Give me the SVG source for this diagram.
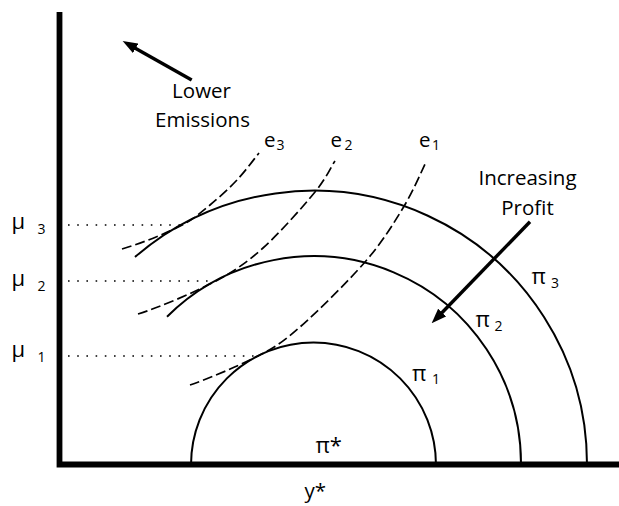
<svg xmlns="http://www.w3.org/2000/svg" width="619" height="506" viewBox="0 0 619 506">
<style>
.t{font-family:"Open Sans","Liberation Sans",sans-serif;font-size:20.5px;fill:#000}
.g{font-size:22px}
.s{font-size:14px}
.arc{fill:none;stroke:#000;stroke-width:2}
.dash{fill:none;stroke:#000;stroke-width:1.7;stroke-dasharray:10 4}
.dot{fill:none;stroke:#000;stroke-width:1.6;stroke-dasharray:1.6 7.6}
.arr{fill:none;stroke:#000;stroke-width:3.4;marker-end:url(#ah)}
</style>
<defs>
<marker id="ah" viewBox="0 0 15 11" markerWidth="15" markerHeight="11" refX="3" refY="5.5" orient="auto" markerUnits="userSpaceOnUse">
<path d="M0,0 L15,5.5 L0,11 z" fill="#000"/>
</marker>
</defs>
<g id="axes">
<path d="M59.5,12 V464.5 H619" fill="none" stroke="#000" stroke-width="5.8" stroke-linejoin="miter"/>
</g>
<g id="profit-curves">
<path class="arc" d="M191,465 A122.5,122.5 0 0 1 436,465"/>
<path class="arc" d="M167,316.8 A207.5,207.5 0 0 1 521,465"/>
<path class="arc" d="M135,257 A273.5,273.5 0 0 1 587,465"/>
</g>
<g id="connectors">
<path class="dash" d="M122,249 C142,243 165,234.1 185,223.5 C193,219.2 201.3,212.3 210,205 C218.7,197.8 228.8,188.7 237,180 C245.2,171.3 255.3,157.5 259,153"/>
<path class="dash" d="M138,314 C158,308 196,291.6 216,281 C232,272.5 246.5,262.8 263,248 C279.5,233.2 303,206.7 315,192 C327,177.3 331.7,165.3 335,161"/>
<path class="dash" d="M190,385 C210,378 236,367 258,356 C272,349 282.2,342.7 300,327 C317.8,311.3 347.8,281.8 365,262 C382.2,242.2 392.8,224.7 403,208 C413.2,191.3 422.2,169.7 426,162"/>
<path class="dot" d="M68,225 H186"/>
<path class="dot" d="M68,281 H214"/>
<path class="dot" d="M68,356 H254"/>
<path class="arr" d="M191.7,80 L133.1,46.9"/>
<path class="arr" d="M530,221.7 L440,314.7"/>
</g>
<g id="lower-emissions">
<text class="t" x="201.5" y="97.5" text-anchor="middle">Lower</text>
<text class="t" x="202.5" y="127" text-anchor="middle">Emissions</text>
</g>
<g id="increasing-profit">
<text class="t" x="527.5" y="185" text-anchor="middle">Increasing</text>
<text class="t" x="527.5" y="215" text-anchor="middle">Profit</text>
</g>
<g id="e-labels">
<text class="t" x="264" y="147">e<tspan class="s" x="276.5" y="150">3</tspan></text>
<text class="t" x="330.5" y="147">e<tspan class="s" x="344.5" y="150">2</tspan></text>
<text class="t" x="419" y="147">e<tspan class="s" x="432" y="150">1</tspan></text>
</g>
<g id="mu-labels">
<text class="t g" x="11.5" y="229">μ<tspan class="s" x="37.5" y="234">3</tspan></text>
<text class="t g" x="11.5" y="285.5">μ<tspan class="s" x="37.5" y="290.5">2</tspan></text>
<text class="t g" x="11.5" y="357">μ<tspan class="s" x="37.5" y="362">1</tspan></text>
</g>
<g id="pi-labels">
<text class="t g" x="531.5" y="283.5">π<tspan class="s" x="551" y="288">3</tspan></text>
<text class="t g" x="475.5" y="326.5">π<tspan class="s" x="494.5" y="330.5">2</tspan></text>
<text class="t g" x="412" y="380.5">π<tspan class="s" x="432" y="383.5">1</tspan></text>
<text class="t g" x="315.5" y="452.5">π*</text>
<text class="t" x="304.5" y="498">y*</text>
</g>
</svg>
